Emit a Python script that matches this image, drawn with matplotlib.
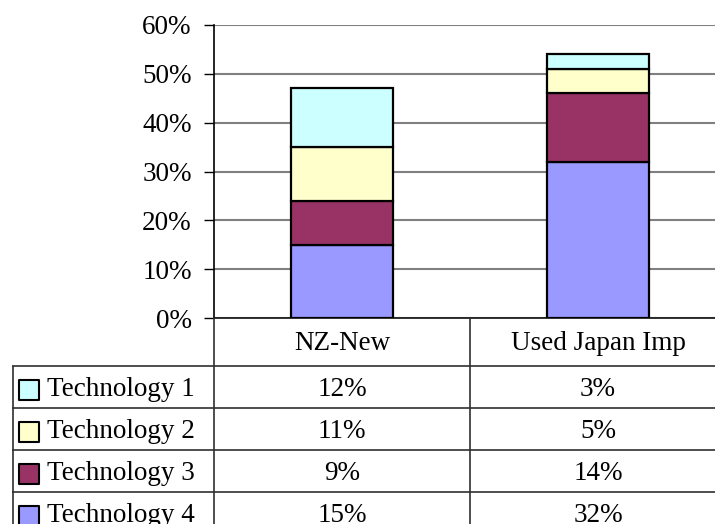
import matplotlib.pyplot as plt
from matplotlib.ticker import PercentFormatter

categories = ['NZ-New', 'Used Japan Imp']
series = ['Technology 1', 'Technology 2', 'Technology 3', 'Technology 4']
tech1 = [12, 3]
tech2 = [11, 5]
tech3 = [9, 14]
tech4 = [15, 32]
colors = {'Technology 1': '#CCFFFF', 'Technology 2': '#FFFFCC',
          'Technology 3': '#993366', 'Technology 4': '#9999FF'}
values = {'Technology 1': tech1, 'Technology 2': tech2,
          'Technology 3': tech3, 'Technology 4': tech4}

plt.rcParams['font.family'] = ['Liberation Serif', 'DejaVu Serif']
fs = 19.5

W, H = 715, 524
fig = plt.figure(figsize=(W / 100, H / 100), dpi=100)

# main bar axes: px 214..726 wide, 25..318 tall
ax = fig.add_axes([214 / W, 1 - 318 / H, 512 / W, 293 / H])
x = list(range(len(categories)))
bottom = [0] * len(categories)
for name in reversed(series):
    ax.bar(x, values[name], 0.4, bottom=bottom, color=colors[name],
           edgecolor='black', linewidth=1.6, zorder=3)
    bottom = [b + v for b, v in zip(bottom, values[name])]

ax.set_xlim(-0.5, 1.5)
ax.set_ylim(0, 60)
ax.set_yticks(range(0, 61, 10))
ax.yaxis.set_major_formatter(PercentFormatter(decimals=0))
ax.set_xticks([])
ax.grid(axis='y', color='#808080', linewidth=1.5, zorder=0)
ax.tick_params(axis='y', direction='out', length=7, width=1,
               pad=9, labelsize=fs)
for s in ['top', 'right']:
    ax.spines[s].set_visible(False)
ax.spines['left'].set_linewidth(1.2)
ax.spines['bottom'].set_linewidth(1.3)
ax.spines['bottom'].set_color('#202020')

# data table below: px 12..726 wide, 318..534 tall
left_units = 202 / 256
tab = fig.add_axes([12 / W, 1 - 534 / H, 714 / W, 216 / H])
tab.set_xlim(-0.5 - left_units, 1.5)
tab.set_ylim(216, 0)
tab.axis('off')

row_edges = [48, 90, 132, 174, 216]
line_kw = dict(color='#303030', linewidth=1.2)
tab.vlines([-0.5, 0.5], 0, 216, **line_kw)
tab.vlines([-0.5 - left_units + 0.003], 48, 216, **line_kw)
tab.hlines(row_edges[:-1], -0.5 - left_units, 1.5, **line_kw)

for i, cat in enumerate(categories):
    tab.text(i, 26, cat, ha='center', va='center', fontsize=fs)

for r, name in enumerate(series):
    yc = (row_edges[r] + row_edges[r + 1]) / 2 + 3
    tab.scatter([-0.5 - left_units + 17 / 256], [yc], marker='s', s=190,
                color=colors[name], edgecolor='black', linewidth=1.5,
                clip_on=False)
    tab.text(-0.5 - left_units + 35 / 256, yc, name, ha='left',
             va='center', fontsize=fs)
    for i in range(len(categories)):
        tab.text(i, yc, f'{values[name][i]}%', ha='center', va='center',
                 fontsize=fs)

fig.savefig('out.png', dpi=100)
